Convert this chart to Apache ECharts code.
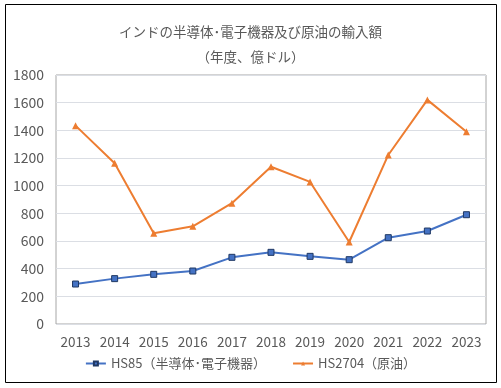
<!DOCTYPE html>
<html><head><meta charset="utf-8">
<script src="https://cdn.jsdelivr.net/npm/echarts@6/dist/echarts.min.js"></script>
<style>html,body{margin:0;padding:0;background:#fff}#c{width:501px;height:388px}</style>
</head><body><div id="c"></div>
<script>
const categories = ['2013','2014','2015','2016','2017','2018','2019','2020','2021','2022','2023'];
const hs85 = [289, 328, 359, 383, 482, 518, 489, 465, 624, 672, 790];
const hs2704 = [1434, 1162, 656, 706, 873, 1137, 1027, 593, 1222, 1620, 1390];
const seriesNames = ['HS85（半導体･電子機器）', 'HS2704（原油）'];
const titleText = 'インドの半導体･電子機器及び原油の輸入額\n（年度、億ドル）';

const font = '"Noto Sans CJK JP", "Noto Sans", sans-serif';
const chart = echarts.init(document.getElementById('c'));
chart.setOption({
  animation: false,
  textStyle: {fontFamily: font},
  graphic: [{type:'rect', shape:{x:5.5,y:4.5,width:491,height:378}, style:{fill:'none', stroke:'#000', lineWidth:1}, silent:true, z:-1}],
  title: {text: titleText, left: 'center', top: 14,
    textStyle: {fontFamily: font, fontSize: 13.5, fontWeight: 'normal', color: '#595959', lineHeight: 25}},
  legend: {bottom: 13, left: 'center', itemGap: 26, itemWidth: 20, itemHeight: 5,
    textStyle: {fontFamily: font, fontSize: 13, color: '#595959'}},
  grid: {left: 56, right: 15, top: 75, bottom: 64, show: true, borderColor: '#a6a6a6', borderWidth: 1},
  xAxis: {type: 'category', data: categories, boundaryGap: true,
    axisLine: {show: false}, axisTick: {show: false},
    axisLabel: {color: '#595959', fontSize: 13.5, margin: 11, fontFamily: font, interval: 0, hideOverlap: false}},
  yAxis: {type: 'value', min: 0, max: 1800, interval: 200,
    axisLine: {show: false}, axisTick: {show: false},
    axisLabel: {color: '#595959', fontSize: 14, margin: 12, fontFamily: font, formatter: v => String(v)}},
  series: [
    {name: seriesNames[0], type: 'line', data: hs85, symbol: 'rect', symbolSize: 6,
     lineStyle: {color: '#4472c4', width: 2}, itemStyle: {color: '#4472c4', borderColor: '#1f3864', borderWidth: 1}},
    {name: seriesNames[1], type: 'line', data: hs2704, symbol: 'triangle', symbolSize: 7,
     lineStyle: {color: '#ed7d31', width: 2}, itemStyle: {color: '#ed7d31'}}
  ]
});
</script></body></html>
